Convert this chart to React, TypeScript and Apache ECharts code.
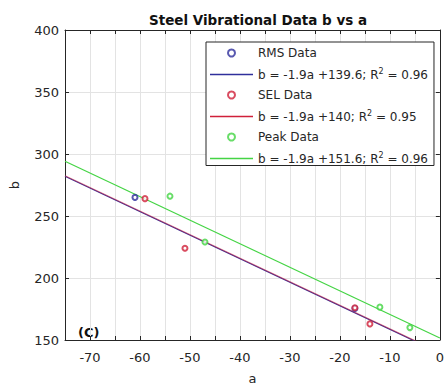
import React, { useEffect, useRef } from "react";
import * as echarts from "echarts";

const rmsData: number[][] = [[-61, 265], [-17, 175.5]];
const selData: number[][] = [[-59, 264], [-51, 224], [-17, 176], [-14, 163]];
const peakData: number[][] = [[-54, 266], [-47, 229], [-12, 176.5], [-6, 160]];
const rmsFit: number[][] = [[-75, 282.1], [0, 139.6]];
const selFit: number[][] = [[-75, 282.5], [0, 140]];
const peakFit: number[][] = [[-75, 294.1], [0, 151.6]];
const names = ["RMS Data", "rmsfit", "SEL Data", "selfit", "Peak Data", "peakfit"];
const fitLabels: Record<string, string[]> = {
  rmsfit: ["b = -1.9a +139.6; R", " = 0.96"],
  selfit: ["b = -1.9a +140; R", " = 0.95"],
  peakfit: ["b = -1.9a +151.6; R", " = 0.96"],
};
const blue = "#30309c";
const red = "#d0203a";
const green = "#44d444";
const font = "DejaVu Sans, Verdana, sans-serif";
const axisColor = "#262626";

export default function App() {
  const ref = useRef<HTMLDivElement>(null);
  useEffect(() => {
    const chart = echarts.init(ref.current!, null, { renderer: "svg" });
    const scatter = (name: string, data: number[][], color: string) => ({
      name,
      type: "scatter",
      data,
      symbol: "emptyCircle",
      symbolSize: 5,
      itemStyle: { color, borderWidth: 0.9 },
      z: 3,
    });
    const line = (name: string, data: number[][], color: string, opacity: number) => ({
      name,
      type: "line",
      data,
      symbol: "none",
      clip: true,
      lineStyle: { color, width: 1.2, opacity },
      itemStyle: { color },
      z: 2,
    });
    const every10 = (_i: number, v: any) => Number(v) % 10 === 0;
    const baseX = {
      type: "value",
      min: -75,
      max: 0,
      interval: 5,
      axisLine: { show: true, onZero: false, lineStyle: { color: axisColor } },
      axisTick: { show: true, inside: true, length: 4, interval: every10, lineStyle: { color: axisColor } },
    };
    const baseY = {
      type: "value",
      min: 150,
      max: 400,
      interval: 50,
      axisLine: { show: true, onZero: false, lineStyle: { color: axisColor } },
      axisTick: { show: true, inside: true, length: 4, lineStyle: { color: axisColor } },
    };
    const lineIcon = "path://M0,0 L43,0 L43,1.3 L0,1.3 Z";
    chart.setOption({
      animation: false,
      title: {
        text: "Steel Vibrational Data b vs a",
        left: 253,
        textAlign: "center",
        top: 8,
        textStyle: { fontFamily: font, fontSize: 13.5, fontWeight: "bold", color: "#111" },
      },
      grid: { left: 64, right: 6, top: 30, bottom: 49 },
      xAxis: [
        {
          ...baseX,
          name: "a",
          nameLocation: "middle",
          nameGap: 32,
          nameTextStyle: { fontFamily: font, fontSize: 13, color: axisColor },
          axisLabel: {
            fontFamily: font,
            fontSize: 13,
            color: axisColor,
            margin: 11,
            interval: every10,
            formatter: (v: number) => (v % 10 === 0 ? String(v) : ""),
          },
          splitLine: { show: true, interval: every10, lineStyle: { color: "#e3e3e3" } },
        },
        {
          ...baseX,
          position: "top",
          axisLabel: { show: false },
          splitLine: { show: false },
        },
      ],
      yAxis: [
        {
          ...baseY,
          name: "b",
          nameLocation: "middle",
          nameGap: 44,
          nameTextStyle: { fontFamily: font, fontSize: 13, color: axisColor },
          axisLabel: { fontFamily: font, fontSize: 13, color: axisColor, margin: 6 },
          splitLine: { show: true, lineStyle: { color: "#e3e3e3" } },
        },
        {
          ...baseY,
          position: "right",
          axisLabel: { show: false },
          splitLine: { show: false },
        },
      ],
      legend: {
        orient: "vertical",
        left: 206,
        top: 42,
        itemWidth: 43,
        itemHeight: 7,
        itemGap: 8.5,
        padding: [5, 6, 1, 4],
        backgroundColor: "#fff",
        borderColor: axisColor,
        borderWidth: 1,
        data: names.map((n) =>
          n.endsWith("Data")
            ? { name: n, itemStyle: { borderWidth: 1 } }
            : { name: n, icon: lineIcon }
        ),
        formatter: (n: string) => {
          const f = fitLabels[n];
          if (f) return `{t|${f[0]}}{s|2}{t|${f[1]}}`;
          return `{t|${n}}`;
        },
        textStyle: {
          fontFamily: font,
          fontSize: 12,
          color: axisColor,
          rich: {
            t: { fontFamily: font, fontSize: 12, lineHeight: 14, color: axisColor },
            s: { fontFamily: font, fontSize: 8, lineHeight: 14, verticalAlign: "top", color: axisColor },
          },
        },
      },
      graphic: [
        {
          type: "text",
          left: 78,
          top: 326,
          style: { text: "(C)", font: `bold 13px ${font}`, fill: "#111" },
        },
      ],
      series: [
        scatter("RMS Data", rmsData, blue),
        line("rmsfit", rmsFit, blue, 1),
        scatter("SEL Data", selData, red),
        line("selfit", selFit, red, 0.55),
        scatter("Peak Data", peakData, green),
        line("peakfit", peakFit, green, 1),
      ],
    });
    return () => chart.dispose();
  }, []);
  return <div ref={ref} style={{ width: 447, height: 390, position: "absolute", left: 0, top: 0 }} />;
}
